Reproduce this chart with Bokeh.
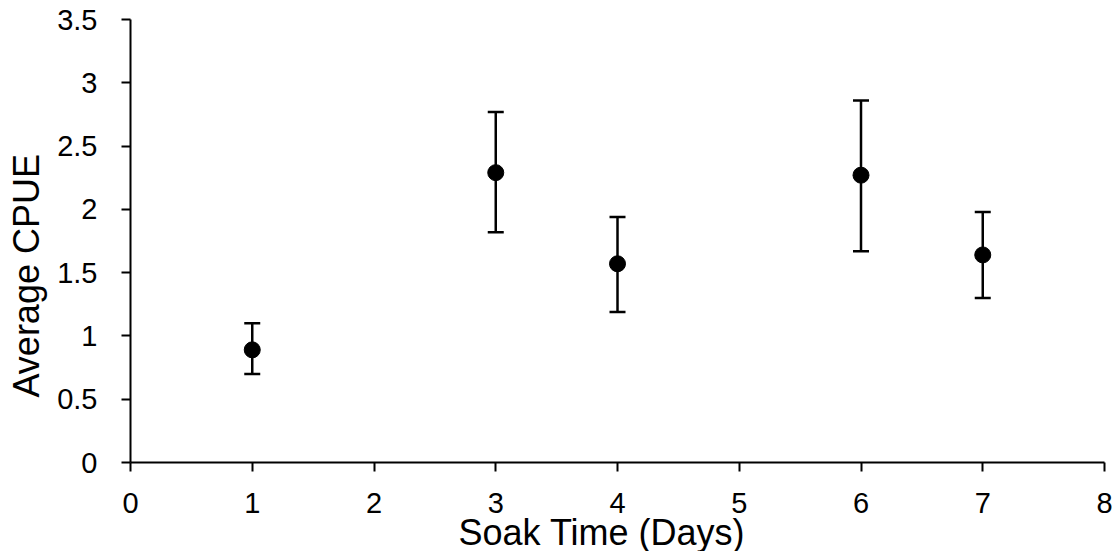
from bokeh.plotting import figure
from bokeh.models import ColumnDataSource, Whisker, TeeHead, FixedTicker, Range1d, Title
from bokeh.embed import file_html
from bokeh.resources import INLINE

# Data
soak_days = [1, 3, 4, 6, 7]
avg_cpue = [0.89, 2.29, 1.57, 2.27, 1.64]
err_upper = [1.10, 2.77, 1.94, 2.86, 1.98]
err_lower = [0.70, 1.82, 1.19, 1.67, 1.30]

x_ticks = [0, 1, 2, 3, 4, 5, 6, 7, 8]
y_ticks = [0, 0.5, 1, 1.5, 2, 2.5, 3, 3.5]
y_tick_labels = ["0", "0.5", "1", "1.5", "2", "2.5", "3", "3.5"]

x_title = "Soak Time (Days)"
y_title = "Average CPUE"

FONT = "Liberation Sans"

source = ColumnDataSource(data=dict(x=soak_days, y=avg_cpue, upper=err_upper, lower=err_lower))

p = figure(width=1116, height=551, output_backend="svg", toolbar_location=None,
           x_range=Range1d(0, 8), y_range=Range1d(0, 3.5),
           min_border_left=129, min_border_right=12, min_border_top=19, min_border_bottom=89)
p.outline_line_color = None
p.xgrid.visible = False
p.ygrid.visible = False
p.background_fill_color = "white"
p.border_fill_color = "white"

for ax in (p.xaxis[0], p.yaxis[0]):
    ax.axis_line_width = 2
    ax.axis_line_color = "black"
    ax.major_tick_line_width = 2
    ax.major_tick_line_color = "black"
    ax.major_tick_out = 9
    ax.major_tick_in = 0
    ax.minor_tick_out = 0
    ax.minor_tick_in = 0
    ax.major_label_text_font = FONT
    ax.major_label_text_font_size = "29px"
    ax.major_label_text_color = "black"

p.xaxis[0].ticker = FixedTicker(ticks=x_ticks)
p.yaxis[0].ticker = FixedTicker(ticks=y_ticks)
p.xaxis[0].major_label_overrides = {t: str(t) for t in x_ticks}
p.yaxis[0].major_label_overrides = {t: l for t, l in zip(y_ticks, y_tick_labels)}
p.xaxis[0].major_label_standoff = 21
p.yaxis[0].major_label_standoff = 24

whisk = Whisker(source=source, base="x", upper="upper", lower="lower",
                line_width=2.5, line_color="black",
                upper_head=TeeHead(size=16, line_width=2.5, line_color="black"),
                lower_head=TeeHead(size=16, line_width=2.5, line_color="black"))
p.add_layout(whisk)

p.scatter("x", "y", source=source, size=16, marker="circle",
          fill_color="black", line_color="black")

# Axis titles (slightly off-centre, as in the reference)
p.add_layout(Title(text=x_title, align="left", offset=328, standoff=-12,
                   text_font=FONT, text_font_size="36px", text_font_style="normal",
                   text_line_height=1.0, text_color="black"), "below")
p.add_layout(Title(text=y_title, align="left", offset=65, standoff=11,
                   vertical_align="top",
                   text_font=FONT, text_font_size="36px", text_font_style="normal",
                   text_line_height=1.0, text_color="black"), "left")

open("out.html", "w").write(file_html(p, INLINE))
